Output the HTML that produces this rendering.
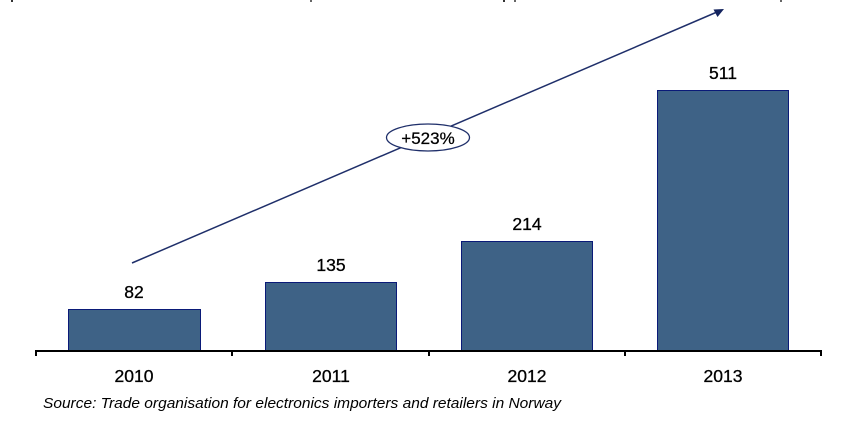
<!DOCTYPE html>
<html>
<head>
<meta charset="utf-8">
<style>
html,body{margin:0;padding:0;background:#fff;}
svg{display:block;}
text{font-family:"Liberation Sans",Arial,sans-serif;fill:#000;}
</style>
</head>
<body>
<svg width="861" height="443" viewBox="0 0 861 443" xmlns="http://www.w3.org/2000/svg">
  <rect width="861" height="443" fill="#fff"/>
  <!-- tiny cut-off marks at top -->
  <rect x="11" y="0" width="2" height="2" fill="#333"/>
  <rect x="310" y="0" width="2" height="2" fill="#666"/>
  <rect x="503" y="0" width="2" height="2" fill="#333"/>
  <rect x="514" y="0" width="2" height="2" fill="#666"/>
  <rect x="780" y="0" width="2" height="2" fill="#666"/>

  <!-- bars -->
  <g fill="#3e6286" stroke="#0a1a78" stroke-width="1">
    <rect x="68.5" y="309.5" width="132" height="41"/>
    <rect x="265.5" y="282.5" width="131" height="68"/>
    <rect x="461.5" y="241.5" width="131" height="109"/>
    <rect x="657.5" y="90.5" width="131" height="260"/>
  </g>

  <!-- axis -->
  <g stroke="#000" stroke-width="2">
    <line x1="35" y1="351" x2="822" y2="351"/>
    <line x1="36" y1="350" x2="36" y2="356"/>
    <line x1="232" y1="350" x2="232" y2="356"/>
    <line x1="429" y1="350" x2="429" y2="356"/>
    <line x1="625" y1="350" x2="625" y2="356"/>
    <line x1="821" y1="350" x2="821" y2="356"/>
  </g>

  <!-- value labels -->
  <g font-size="17.5" text-anchor="middle" stroke="#000" stroke-width="0.3">
    <text x="134" y="298">82</text>
    <text x="331" y="271">135</text>
    <text x="527" y="230">214</text>
    <text x="723" y="79">511</text>
  </g>

  <!-- category labels -->
  <g font-size="17.5" text-anchor="middle" stroke="#000" stroke-width="0.3">
    <text x="134" y="382">2010</text>
    <text x="331" y="382">2011</text>
    <text x="527" y="382">2012</text>
    <text x="723" y="382">2013</text>
  </g>

  <!-- arrow -->
  <line x1="132" y1="263" x2="717" y2="12" stroke="#1f2f6a" stroke-width="1.5"/>
  <polygon points="724,9 713.5,9.5 717.5,17" fill="#13235e"/>

  <!-- ellipse -->
  <ellipse cx="428" cy="137.5" rx="41.5" ry="13.5" fill="#fff" stroke="#1f2f6a" stroke-width="1.3"/>
  <text x="428" y="144" font-size="17" text-anchor="middle" stroke="#000" stroke-width="0.25">+523%</text>

  <!-- source -->
  <text x="43" y="408" font-size="14.5" font-style="italic" textLength="518" lengthAdjust="spacingAndGlyphs">Source: Trade organisation for electronics importers and retailers in Norway</text>
</svg>
</body>
</html>
